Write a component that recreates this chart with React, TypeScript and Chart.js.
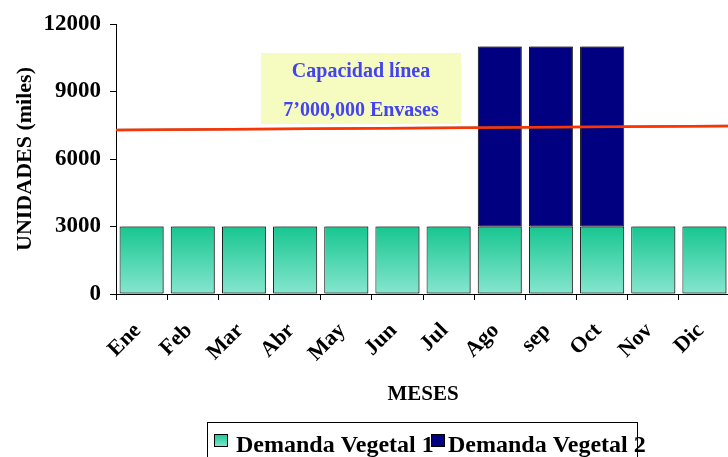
import React, { useEffect, useRef } from "react";
import { Chart, registerables } from "chart.js";

Chart.register(...registerables);

const months = ["Ene", "Feb", "Mar", "Abr", "May", "Jun", "Jul", "Ago", "sep", "Oct", "Nov", "Dic"];
const demanda1 = [3000, 3000, 3000, 3000, 3000, 3000, 3000, 3000, 3000, 3000, 3000, 3000];
const demanda2 = [0, 0, 0, 0, 0, 0, 0, 8000, 8000, 8000, 0, 0];
const capacidad = [
  { x: 0, y: 7290 },
  { x: 1, y: 7470 },
];
const yTicks = [0, 3000, 6000, 9000, 12000];
const seriesNames = ["Demanda Vegetal 1", "Demanda Vegetal 2"];
const noteLines = ["Capacidad línea", "7’000,000 Envases"];

const SERIF = "'Liberation Serif', 'DejaVu Serif', serif";

export default function App() {
  const ref = useRef<HTMLCanvasElement | null>(null);

  useEffect(() => {
    const canvas = ref.current;
    if (!canvas) return;

    const greenGrad = (ctx: any) => {
      const chart = ctx.chart;
      const area = chart.chartArea;
      if (!area) return "#3fd3a8";
      const ys = chart.scales.y;
      const g = chart.ctx.createLinearGradient(0, ys.getPixelForValue(3000), 0, ys.getPixelForValue(0));
      g.addColorStop(0, "#17c690");
      g.addColorStop(1, "#86e6cf");
      return g;
    };

    const shadowPlugin = {
      id: "barShadow",
      beforeDatasetsDraw(chart: any) {
        const c = chart.ctx;
        c.save();
        c.shadowColor = "rgba(90,90,90,0.75)";
        c.shadowOffsetX = 2;
        c.shadowOffsetY = 0;
        c.shadowBlur = 0;
      },
      afterDatasetsDraw(chart: any) {
        chart.ctx.restore();
      },
    };

    const notePlugin = {
      id: "note",
      beforeDatasetsDraw(chart: any) {
        const c = chart.ctx;
        c.save();
        c.fillStyle = "#f6fbc0";
        c.fillRect(261, 53, 200, 71);
        c.fillStyle = "#4343f2";
        c.font = `bold 20px ${SERIF}`;
        c.textAlign = "center";
        c.textBaseline = "middle";
        c.fillText(noteLines[0], 361, 72);
        c.fillText(noteLines[1], 361, 111);
        c.restore();
      },
    };

    const legendPlugin = {
      id: "customLegend",
      afterDraw(chart: any) {
        const c = chart.ctx;
        c.save();
        c.strokeStyle = "#000";
        c.lineWidth = 1;
        c.strokeRect(207.5, 422.5, 430, 60);
        const g = c.createLinearGradient(0, 434, 0, 447);
        g.addColorStop(0, "#17c690");
        g.addColorStop(1, "#86e6cf");
        c.fillStyle = g;
        c.fillRect(214, 434, 14, 13);
        c.strokeRect(214.5, 434.5, 13, 12);
        c.fillStyle = "#000";
        c.font = `bold 24px ${SERIF}`;
        c.textBaseline = "alphabetic";
        c.textAlign = "left";
        c.fillText(seriesNames[0], 236, 452);
        c.fillStyle = "#000080";
        c.fillRect(431, 434, 14, 13);
        c.strokeRect(431.5, 434.5, 13, 12);
        c.fillStyle = "#000";
        c.fillText(seriesNames[1], 448, 452);
        c.restore();
      },
    };

    const chart = new Chart(canvas, {
      type: "bar",
      data: {
        labels: months,
        datasets: [
          {
            label: seriesNames[0],
            data: demanda1,
            backgroundColor: greenGrad,
            borderColor: "#000",
            borderWidth: 1,
            borderSkipped: false,
            categoryPercentage: 0.86,
            barPercentage: 1,
            grouped: false,
            order: 2,
          },
          {
            label: seriesNames[1],
            data: demanda2,
            backgroundColor: "#000080",
            borderColor: "#000",
            borderWidth: 1,
            borderSkipped: false,
            categoryPercentage: 0.86,
            barPercentage: 1,
            grouped: false,
            order: 2,
          },
          {
            type: "line",
            label: "Capacidad",
            data: capacidad as any,
            xAxisID: "x2",
            yAxisID: "y2",
            borderColor: "#ff3300",
            borderWidth: 2.5,
            pointRadius: 0,
            fill: false,
            order: 1,
          } as any,
        ],
      },
      options: {
        animation: false,
        responsive: false,
        maintainAspectRatio: false,
        layout: { padding: { top: 24, right: 10, left: 0, bottom: 50 } },
        plugins: {
          legend: { display: false },
          tooltip: { enabled: false },
        },
        scales: {
          x: {
            stacked: true,
            offset: true,
            border: { display: true, color: "#000", width: 1 },
            grid: { offset: true, drawOnChartArea: false, drawTicks: true, tickLength: 6, color: "#000" },
            ticks: {
              color: "#000",
              font: { family: SERIF, size: 22, weight: "bold" },
              minRotation: 45,
              maxRotation: 45,
              padding: 14,
              callback: function (this: any, v: any) {
                return this.getLabelForValue(v) + " ";
              },
            },
            title: {
              display: true,
              text: "MESES",
              color: "#000",
              font: { family: SERIF, size: 21, weight: "bold" },
              padding: { top: 0, bottom: 0 },
            },
            afterFit: (s: any) => {
              s.height = 113;
            },
          },
          x2: {
            type: "linear",
            display: false,
            offset: false,
            min: 0,
            max: 1,
          },
          y: {
            stacked: true,
            min: 0,
            max: 12000,
            border: { display: true, color: "#000", width: 1 },
            grid: { drawOnChartArea: false, drawTicks: true, tickLength: 6, color: "#000" },
            afterBuildTicks: (s: any) => {
              s.ticks = yTicks.map((v) => ({ value: v }));
            },
            ticks: {
              color: "#000",
              font: { family: SERIF, size: 23, weight: "bold" },
              padding: 9,
              callback: (v: any) => String(v),
            },
            title: {
              display: true,
              text: "UNIDADES (miles)",
              color: "#000",
              font: { family: SERIF, size: 22, weight: "bold" },
              padding: { top: 12, bottom: 0 },
            },
            afterFit: (s: any) => {
              s.width = 116;
            },
          },
          y2: {
            display: false,
            min: 0,
            max: 12000,
          },
        },
      },
      plugins: [notePlugin, shadowPlugin, legendPlugin],
    } as any);

    return () => chart.destroy();
  }, []);

  return (
    <div style={{ position: "fixed", left: 0, top: 0, width: 728, height: 457, overflow: "hidden", background: "#fff" }}>
      <canvas ref={ref} width={740} height={457} style={{ display: "block", width: 740, height: 457 }} />
    </div>
  );
}
